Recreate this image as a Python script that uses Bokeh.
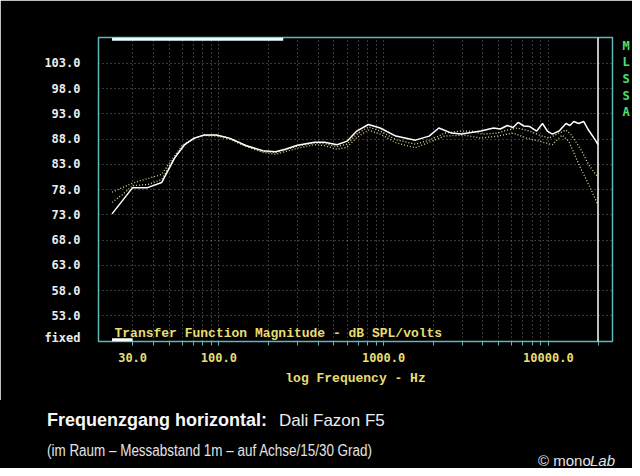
from bokeh.plotting import figure
from bokeh.layouts import column
from bokeh.models import (FixedTicker, Label, Span, BoxAnnotation, ColumnDataSource,
                          LinearAxis, Range1d, Div)
from bokeh.embed import file_html
from bokeh.resources import INLINE

# ---------------- data ----------------
freq_0deg = [22.5, 30, 37, 45, 54, 62, 71, 81, 97, 116, 147, 185, 221, 253, 300, 381,
             438, 523, 600, 687, 809, 953, 1186, 1559, 1889, 2165, 2582, 2961, 3400,
             3890, 4650, 5100, 5640, 6100, 6550, 7100, 7710, 8490, 9210, 9860, 10560,
             11620, 12790, 13500, 14260, 15270, 16360, 17510, 19280, 20000]
spl_0deg = [73.2, 78.4, 78.4, 79.4, 84.3, 86.9, 88.2, 88.8, 88.8, 88.2, 86.7, 85.7, 85.5,
            86.0, 86.8, 87.4, 87.4, 86.9, 87.6, 89.6, 90.9, 90.2, 88.6, 87.8, 88.6, 90.2,
            89.2, 89.0, 89.3, 89.6, 90.2, 90.0, 90.7, 90.3, 91.3, 90.6, 90.5, 89.6, 91.1,
            89.6, 89.0, 89.6, 91.1, 90.7, 91.5, 91.1, 91.5, 89.8, 87.8, 86.9]

freq_15deg = [22.5, 26, 30, 37, 45, 52, 60, 71, 81, 97, 116, 147, 185, 221, 300, 381, 438,
              523, 600, 687, 809, 953, 1186, 1559, 1889, 2165, 2340, 2961, 3400, 4000,
              4900, 5640, 6440, 7700, 8800, 10100, 11600, 12800, 13800, 15900, 17500, 20000]
spl_15deg = [75.5, 77.0, 78.8, 79.0, 80.0, 83.5, 86.5, 88.2, 88.8, 88.8, 88.2, 86.7, 85.6,
             85.3, 86.6, 87.2, 87.1, 86.5, 87.0, 89.0, 90.4, 89.6, 87.9, 87.0, 87.8, 88.6,
             89.2, 89.6, 89.6, 89.0, 89.2, 89.8, 90.2, 89.6, 88.8, 88.2, 89.2, 89.8, 88.8,
             85.7, 83.0, 80.4]

freq_30deg = [22.5, 30, 37, 45, 52, 60, 71, 81, 97, 116, 147, 185, 221, 300, 381, 438, 523,
              600, 687, 809, 953, 1186, 1559, 1968, 2340, 3090, 3890, 4900, 6100, 7400,
              8800, 10560, 12100, 13300, 15300, 17500, 19600, 20000]
spl_30deg = [77.5, 79.3, 80.2, 81.0, 84.0, 86.8, 88.2, 88.7, 88.6, 88.0, 86.5, 85.4, 85.0,
             86.2, 86.9, 86.7, 86.0, 86.4, 88.3, 89.8, 89.0, 87.3, 86.3, 87.6, 88.6, 88.8,
             88.2, 88.6, 89.2, 88.2, 87.6, 86.9, 88.8, 87.6, 83.0, 79.1, 75.6, 75.0]

y_ticks = [53, 58, 63, 68, 73, 78, 83, 88, 93, 98, 103]
fixed_level = 48.7
x_major = [30, 100, 1000, 10000]
x_minor = [30, 40, 50, 60, 70, 80, 90, 100, 200, 300, 400, 500, 600, 700, 800, 900,
           1000, 2000, 3000, 4000, 5000, 6000, 7000, 8000, 9000, 10000, 20000]
x_tick_labels = {30: "30.0", 100: "100.0", 1000: "1000.0", 10000: "10000.0"}
side_letters = ["M", "L", "S", "S", "A"]
side_levels = [106.4, 103.2, 99.9, 96.6, 93.4]
band_limit = 20000
top_cursor = (22.5, 246)
bottom_cursor = (22.5, 30)

title_bold = "Frequenzgang horizontal:"
title_model = "Dali Fazon F5"
subtitle = "(im Raum \u2013 Messabstand 1m \u2013 auf Achse/15/30 Grad)"
credit = "\u00a9 mono"
credit_italic = "Lab"

# ---------------- styling ----------------
CYAN = "#5fb9b9"
YELLOW = "#e8de70"
GRID = "#8c8c8c"
GREEN = "#4ee06a"
W = 632
H1, H2 = 400, 68
X_RANGE = (18.62, 24490)
Y_RANGE = (47.94, 108.12)

p = figure(width=W, height=H1, x_axis_type="log",
           x_range=Range1d(*X_RANGE), y_range=Range1d(*Y_RANGE),
           output_backend="svg", toolbar_location=None,
           min_border_left=98, min_border_right=15, min_border_top=37, min_border_bottom=59,
           background_fill_color="black", border_fill_color="black")

p.outline_line_color = CYAN
p.outline_line_width = 1.5

# grids
p.ygrid.ticker = FixedTicker(ticks=y_ticks)
p.xgrid.ticker = FixedTicker(ticks=x_minor[:-1])
for g in (p.xgrid, p.ygrid):
    g.grid_line_color = GRID
    g.grid_line_dash = "1 3"
    g.grid_line_width = 1
    g.grid_line_alpha = 0.8

# x axis
xa = p.xaxis[0]
xa.ticker = FixedTicker(ticks=x_major, minor_ticks=x_minor)
xa.major_label_overrides = x_tick_labels
xa.axis_line_color = None
xa.major_tick_line_color = CYAN
xa.minor_tick_line_color = CYAN
xa.major_tick_in = 0
xa.minor_tick_in = 0
xa.major_tick_out = 4
xa.minor_tick_out = 4
xa.major_label_standoff = 7
xa.major_label_text_color = YELLOW
xa.major_label_text_font = "DejaVu Sans Mono"
xa.major_label_text_font_style = "bold"
xa.major_label_text_font_size = "12px"
xa.axis_label = "log Frequency - Hz"
xa.axis_label_text_color = YELLOW
xa.axis_label_text_font = "Liberation Mono"
xa.axis_label_text_font_style = "bold"
xa.axis_label_text_font_size = "13px"
xa.axis_label_standoff = 6

# y axis
ya = p.yaxis[0]
ya.ticker = FixedTicker(ticks=[fixed_level] + y_ticks)
overrides = {t: f"{t:.1f}" for t in y_ticks}
overrides[fixed_level] = "fixed"
ya.major_label_overrides = overrides
ya.axis_line_color = None
ya.major_tick_line_color = None
ya.minor_tick_line_color = None
ya.major_label_standoff = 12
ya.major_label_text_color = "#ececec"
ya.major_label_text_font = "DejaVu Sans Mono"
ya.major_label_text_font_style = "bold"
ya.major_label_text_font_size = "12px"

# right side "MLSSA" letters as an axis of its own
ra = LinearAxis(ticker=FixedTicker(ticks=side_levels),
                major_label_overrides=dict(zip(side_levels, side_letters)))
ra.axis_line_color = None
ra.major_tick_line_color = None
ra.minor_tick_line_color = None
ra.major_label_standoff = 4
ra.major_label_text_color = GREEN
ra.major_label_text_font = "DejaVu Sans Mono"
ra.major_label_text_font_style = "bold"
ra.major_label_text_font_size = "12px"
p.add_layout(ra, "right")

# curves
src0 = ColumnDataSource(dict(f=freq_0deg, db=spl_0deg))
src15 = ColumnDataSource(dict(f=freq_15deg, db=spl_15deg))
src30 = ColumnDataSource(dict(f=freq_30deg, db=spl_30deg))
p.line("f", "db", source=src30, line_color="#d8d08a", line_width=1.3, line_dash="1 2")
p.line("f", "db", source=src15, line_color="#e4dc98", line_width=1.3, line_dash="1 2")
p.line("f", "db", source=src0, line_color="white", line_width=1.5)

# decorations
p.add_layout(Span(location=band_limit, dimension="height", line_color="white", line_width=1.5))
p.add_layout(BoxAnnotation(left=top_cursor[0], right=top_cursor[1], top=Y_RANGE[1], bottom=107.5,
                           fill_color="#e8ffff", fill_alpha=1, line_color=None))
p.add_layout(BoxAnnotation(left=bottom_cursor[0], right=bottom_cursor[1], top=48.6, bottom=Y_RANGE[0],
                           fill_color="white", fill_alpha=1, line_color=None))
p.add_layout(Label(x=114, y=333, x_units="canvas", y_units="canvas",
                   text="Transfer Function Magnitude - dB SPL/volts", text_color=YELLOW,
                   text_font="Liberation Mono", text_font_size="13px", text_font_style="bold",
                   text_baseline="middle"))

# ---------------- caption strip ----------------
def span(text, left, top, size, weight="normal", style="normal", color="#e8e8e8", extra=""):
    return (f'<div style="position:absolute;left:{left}px;top:{top}px;white-space:nowrap;'
            f"font-family:'Liberation Sans',Arial,sans-serif;font-size:{size}px;line-height:1;"
            f'font-weight:{weight};font-style:{style};color:{color};{extra}">{text}</div>')


caption_html = (
    '<div style="position:relative;width:632px;height:68px;background:black;overflow:hidden;">'
    + span(title_bold, 47, 11, 18, weight="bold", color="#f6f6f6")
    + span(title_model, 279, 11.5, 17, color="#eeeeee")
    + span(subtitle, 47, 42.5, 16, color="#e4e4e4",
           extra="transform:scaleX(0.84);transform-origin:left center;")
    + span(credit, 538, 53, 15, color="#e4e4e4")
    + span(credit_italic, 590, 53, 15, style="italic", color="#e4e4e4")
    + "</div>"
)
caption = Div(text=caption_html, width=W, height=H2,
              styles={"background-color": "black", "margin": "0", "padding": "0"})

layout = column(p, caption, spacing=0)
open("out.html", "w").write(file_html(layout, INLINE))
